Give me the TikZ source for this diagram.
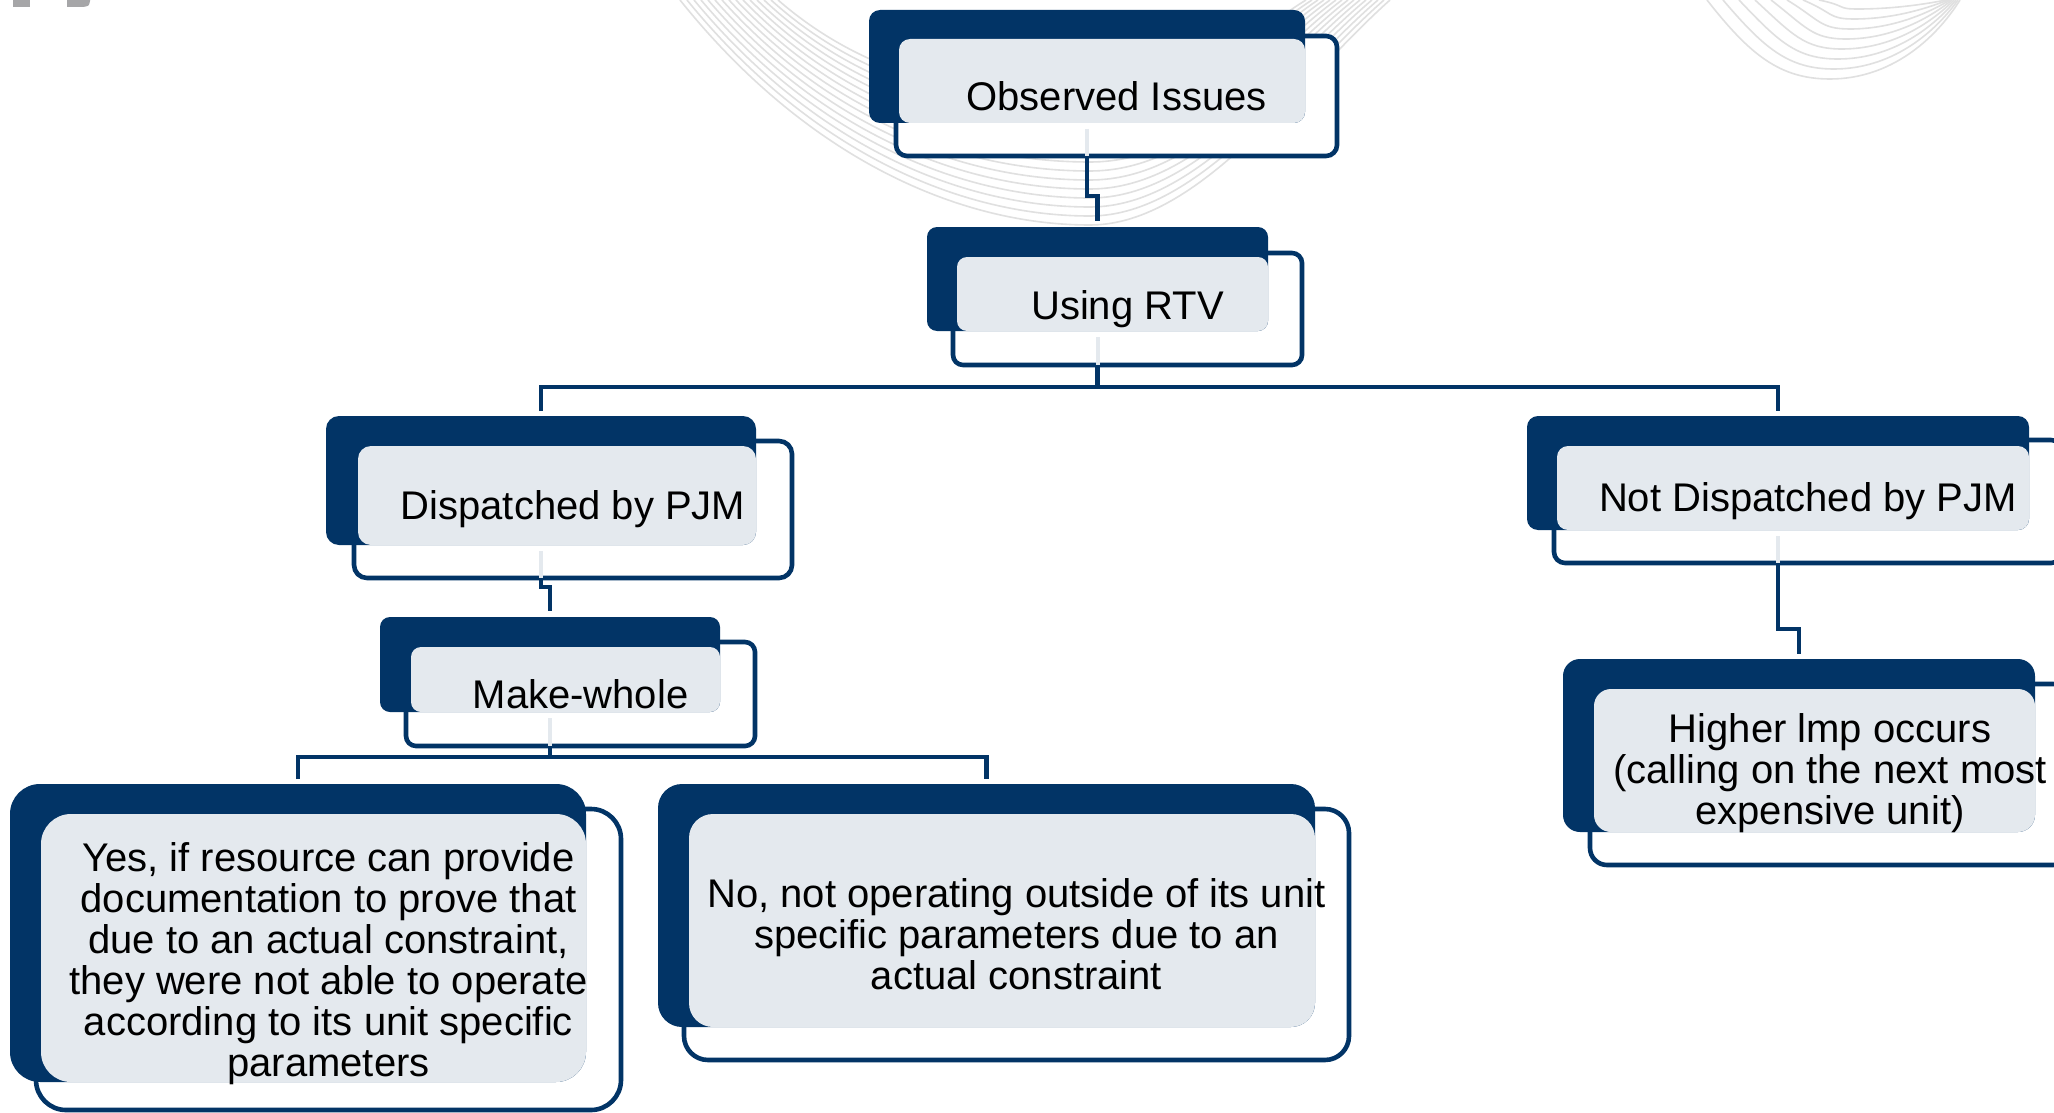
\documentclass[tikz,border=0pt]{standalone}
\usepackage{fontspec}
\setmainfont{Liberation Sans}
\usetikzlibrary{calc}
\definecolor{navy}{HTML}{023466}
\definecolor{lightfill}{HTML}{E4E9EE}
\definecolor{wave}{RGB}{224,224,224}
\definecolor{logo}{RGB}{166,166,168}
\begin{document}
\begin{tikzpicture}[x=1pt,y=-1pt,
  outb/.style={draw=navy, line width=4.6pt, fill=white, inner sep=0pt, outer sep=0pt},
  darkb/.style={fill=navy, inner sep=0pt, outer sep=0pt, anchor=north west},
  lightb/.style={fill=lightfill},
  txt/.style={font=\fontsize{40}{41}\selectfont, align=center, text=black, inner sep=0pt},
  conn/.style={draw=navy, line width=4.3pt},
  ghost/.style={draw=lightfill, line width=4pt},
  wavel/.style={draw=wave, line width=1.6pt}]
\useasboundingbox (0,0) rectangle (2054,1113);
\fill[white] (0,0) rectangle (2054,1113);
\clip (0,0) rectangle (2054,1113);

% background decoration
\foreach \i in {0,...,14} {
  \draw[wavel] (680+7*\i,0) .. controls (800+5*\i,150-5*\i) and (950+2*\i,225-9*\i) .. (1090,225-9*\i)
    .. controls (1200,225-9*\i) and (1300-4*\i,80-3*\i) .. (1390-6*\i,0);
}
\foreach \i in {0,...,7} {
  \draw[wavel] (1707+16*\i,0) .. controls (1750+14*\i,55-7*\i) and (1780+8*\i,79-10*\i) .. (1830+4*\i,79-10*\i)
    .. controls (1890,79-10*\i) and (1935-2*\i,40-5*\i) .. (1960-2*\i,0);
}
\fill[logo] (13,0) rectangle (30,7);
\fill[logo] (67,0) -- (90,0) -- (90,1) .. controls (89,6) .. (83,7) -- (67,7) -- cycle;

% outline boxes
\node[outb, rounded corners=11pt, minimum width=441pt, minimum height=120pt] (obs) at (1116.5,96) {};
\node[outb, rounded corners=10pt, minimum width=349pt, minimum height=112pt] (rtv) at (1127.5,309) {};
\node[outb, rounded corners=13pt, minimum width=438pt, minimum height=137pt] (dis) at (573,509.5) {};
\node[outb, rounded corners=11pt, minimum width=508pt, minimum height=123pt] (nd) at (1808,501.5) {};
\node[outb, rounded corners=10pt, minimum width=349pt, minimum height=104pt] (mw) at (580.5,694) {};
\node[outb, rounded corners=17pt, minimum width=480pt, minimum height=181pt] (hi) at (1830,774.5) {};
\node[outb, rounded corners=30pt, minimum width=585pt, minimum height=301pt] (yes) at (328.5,959.5) {};
\node[outb, rounded corners=24pt, minimum width=665pt, minimum height=251pt] (no) at (1016.5,934.5) {};

% dark tabs
\node[darkb, rounded corners=11pt, minimum width=436pt, minimum height=113pt] (obsD) at (869,10) {};
\node[darkb, rounded corners=10pt, minimum width=341pt, minimum height=104pt] (rtvD) at (927,227) {};
\node[darkb, rounded corners=13pt, minimum width=430pt, minimum height=129pt] (disD) at (326,416) {};
\node[darkb, rounded corners=11pt, minimum width=502pt, minimum height=114pt] (ndD) at (1527,416) {};
\node[darkb, rounded corners=10pt, minimum width=340pt, minimum height=95pt] (mwD) at (380,617) {};
\node[darkb, rounded corners=17pt, minimum width=472pt, minimum height=173pt] (hiD) at (1563,659) {};
\node[darkb, rounded corners=30pt, minimum width=576pt, minimum height=298pt] (yesD) at (10,784) {};
\node[darkb, rounded corners=24pt, minimum width=657pt, minimum height=243pt] (noD) at (658,784) {};

% light panels
\fill[lightb, rounded corners=11pt] (899,39) rectangle (obsD.south east);
\fill[lightb, rounded corners=10pt] (957,257) rectangle (rtvD.south east);
\fill[lightb, rounded corners=13pt] (358,446) rectangle (disD.south east);
\fill[lightb, rounded corners=11pt] (1557,446) rectangle (ndD.south east);
\fill[lightb, rounded corners=10pt] (411,647) rectangle (mwD.south east);
\fill[lightb, rounded corners=17pt] (1594,689) rectangle (hiD.south east);
\fill[lightb, rounded corners=30pt] (41,814) rectangle (yesD.south east);
\fill[lightb, rounded corners=24pt] (689,814) rectangle (noD.south east);

% faint connector stubs inside the boxes
\draw[ghost] ($(obsD.south)+(0,6)$) -- (obsD |- obs.south);
\draw[ghost] ($(rtvD.south)+(0,6)$) -- (rtvD |- rtv.south);
\draw[ghost] ($(disD.south)+(0,6)$) -- (disD |- dis.south);
\draw[ghost] ($(ndD.south)+(0,6)$) -- (ndD |- nd.south);
\draw[ghost] ($(mwD.south)+(0,6)$) -- (mwD |- mw.south);

% connectors
\draw[conn] (obsD |- obs.south) -- ++(0,40) -| ($(rtvD.north)+(0,-6)$);
\draw[conn] (rtvD |- rtv.south) -- ++(0,22) coordinate (hub1);
\draw[conn] ($(disD.north)+(0,-5)$) |- (hub1) -| ($(ndD.north)+(0,-5)$);
\draw[conn] (disD |- dis.south) -- ++(0,9) -| ($(mwD.north)+(0,-6)$);
\draw[conn] (ndD |- nd.south) -- ++(0,66) -| ($(hiD.north)+(0,-5)$);
\draw[conn] (mwD |- mw.south) -- ++(0,11) coordinate (hub2);
\draw[conn] ($(yesD.north)+(0,-5)$) |- (hub2) -| ($(noD.north)+(0,-5)$);

% texts
\node[txt] (obsT) at (obs) {Observed Issues};
\node[txt] (rtvT) at (rtv) {Using RTV};
\node[txt] (disT) at (dis) {Dispatched by PJM};
\node[txt] (ndT) at (nd) {Not Dispatched by PJM};
\node[txt] (mwT) at (mw) {Make-whole};
\node[txt] (hiT) at ($(hi)+(0,-1)$) {Higher lmp occurs\\(calling on the next most\\expensive unit)};
\node[txt] (yesT) at ($(yes)+(0,4)$) {Yes, if resource can provide\\documentation to prove that\\due to an actual constraint,\\they were not able to operate\\according to its unit specific\\parameters};
\node[txt] (noT) at (no) {No, not operating outside of its unit\\specific parameters due to an\\actual constraint};
\end{tikzpicture}
\end{document}
